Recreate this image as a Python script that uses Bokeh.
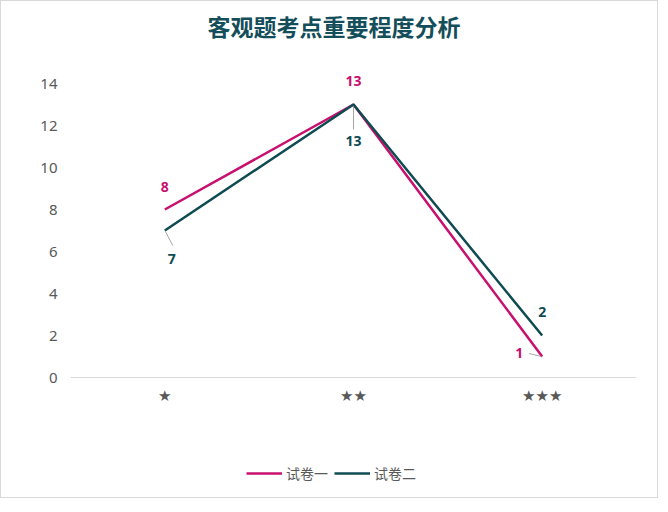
from bokeh.plotting import figure
from bokeh.models import FixedTicker, Range1d, Legend, LegendItem, ColumnDataSource
from bokeh.core.properties import value
from bokeh.embed import file_html
from bokeh.resources import INLINE

# ---- data ----
categories = ["★", "★★", "★★★"]
series1_name = "试卷一"
series1 = [8, 13, 1]
series2_name = "试卷二"
series2 = [7, 13, 2]
y_ticks = [0, 2, 4, 6, 8, 10, 12, 14]
title_text = "客观题考点重要程度分析"

# ---- styles ----
C1 = "#C8106E"
C2 = "#0E4B52"
GRAY = "#595959"
LEADER = "#A6A6A6"
CJK = "Noto Sans CJK SC"
NUM = "Noto Sans"

W, H = 658, 498
ML, MR, MT, MB = 69, 23, 46, 2
AXIS_Y = 376          # canvas y of the zero line
PX_Y = 21.0
frame_w = W - ML - MR
y_end = (AXIS_Y - MT) / PX_Y
y_start = -((H - MB) - AXIS_Y) / PX_Y
PX_X = frame_w / len(categories)

x = list(range(len(categories)))

# label offsets in screen px (dx right, dy down)
off1 = [(0, -23), (0, -24), (-23, -4)]
off2 = [(7, 28), (0, 36), (0, -24)]
# leader lines (screen px relative to point): (start dx, dy, end dx, dy); None = no leader
lead1 = [None, None, (-1, 0, -13, -3)]
lead2 = [(0, 0, 8, 15), (0, 2, 0, 25), None]

p = figure(width=W, height=H, output_backend="svg", toolbar_location=None,
           x_range=Range1d(-0.5, len(categories) - 0.5), y_range=Range1d(y_start, y_end),
           min_border_left=ML, min_border_right=MR, min_border_top=MT, min_border_bottom=MB)
p.styles = {"border": "1px solid #D9D9D9"}
p.background_fill_color = "white"
p.border_fill_color = "white"
p.outline_line_color = None
p.grid.grid_line_color = None

p.title.text = title_text
p.title.align = "left"
p.title.offset = 137
p.title.text_font = CJK
p.title.text_font_size = "23px"
p.title.text_font_style = "bold"
p.title.text_color = "#134E5A"

p.yaxis.ticker = FixedTicker(ticks=y_ticks)
p.yaxis.axis_line_color = None
p.yaxis.major_tick_line_color = None
p.yaxis.minor_tick_line_color = None
p.yaxis.major_label_text_color = GRAY
p.yaxis.major_label_text_font = NUM
p.yaxis.major_label_text_font_size = "15px"
p.yaxis.major_label_standoff = 7

p.xaxis.fixed_location = 0
p.xaxis.ticker = FixedTicker(ticks=x)
p.xaxis.major_label_overrides = {i: c for i, c in enumerate(categories)}
p.xaxis.axis_line_color = "#D9D9D9"
p.xaxis.major_tick_line_color = None
p.xaxis.minor_tick_line_color = None
p.xaxis.major_label_text_color = GRAY
p.xaxis.major_label_text_font = "DejaVu Sans"
p.xaxis.major_label_text_font_size = "15px"
p.xaxis.major_label_standoff = 3

r1 = p.line(x, series1, line_color=C1, line_width=2.5)
r2 = p.line(x, series2, line_color=C2, line_width=2.5)


def leaders(vals, leads):
    x0, y0, x1, y1 = [], [], [], []
    for i, (v, l) in enumerate(zip(vals, leads)):
        if l is None:
            continue
        x0.append(x[i] + l[0] / PX_X)
        y0.append(v - l[1] / PX_Y)
        x1.append(x[i] + l[2] / PX_X)
        y1.append(v - l[3] / PX_Y)
    return dict(x0=x0, y0=y0, x1=x1, y1=y1)


for vals, leads in ((series1, lead1), (series2, lead2)):
    p.segment(x0="x0", y0="y0", x1="x1", y1="y1", source=ColumnDataSource(leaders(vals, leads)),
              line_color=LEADER, line_width=1)

for vals, offs, col in ((series1, off1, C1), (series2, off2, C2)):
    src = ColumnDataSource(dict(x=x, y=vals, t=[str(v) for v in vals],
                                dx=[o[0] for o in offs], dy=[o[1] for o in offs]))
    p.text(x="x", y="y", text="t", x_offset="dx", y_offset="dy", source=src,
           text_color=col, text_font=value(NUM), text_font_style="bold",
           text_font_size="14px", text_align="center", text_baseline="middle")

legend = Legend(items=[LegendItem(label=series1_name, renderers=[r1]),
                       LegendItem(label=series2_name, renderers=[r2])],
                orientation="horizontal", location=(176, 14))
legend.border_line_color = None
legend.background_fill_alpha = 0
legend.label_text_font = CJK
legend.label_text_font_size = "14px"
legend.label_text_color = GRAY
legend.glyph_width = 36
legend.spacing = 6
legend.label_standoff = 4
legend.padding = 8
legend.margin = 0
p.add_layout(legend, "center")

open("out.html", "w").write(file_html(p, INLINE))
